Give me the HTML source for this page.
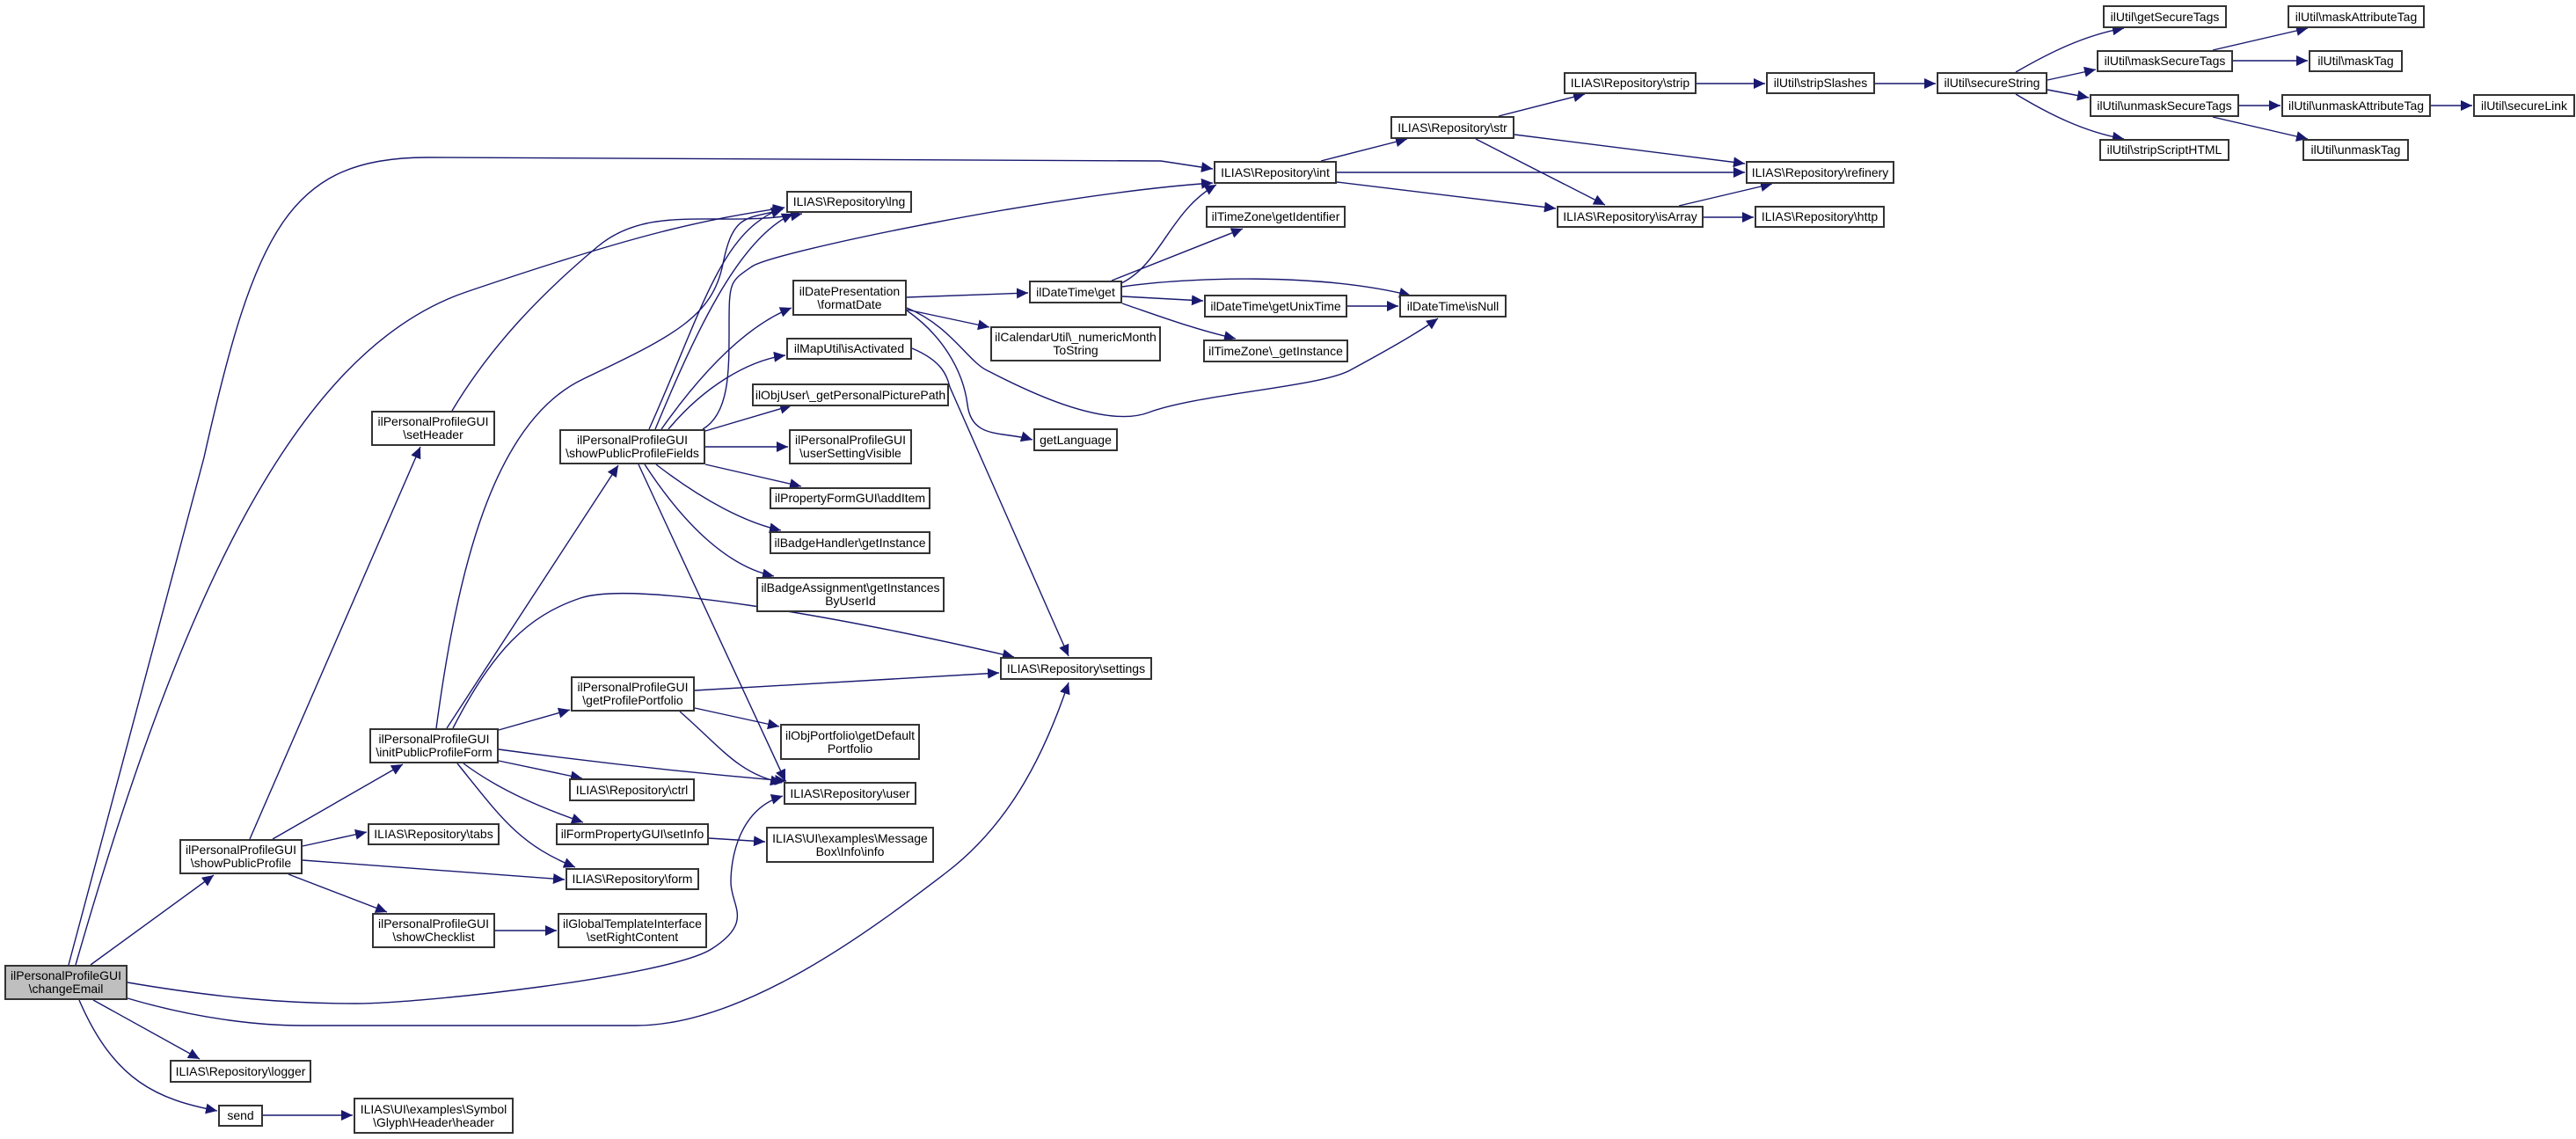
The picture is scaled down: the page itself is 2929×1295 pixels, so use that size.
<!DOCTYPE html>
<html><head><meta charset="utf-8">
<style>
html,body{margin:0;padding:0;background:#fff;}
#c{position:relative;width:2929px;height:1295px;overflow:hidden;background:#fff;}
svg{position:absolute;left:0;top:0;}
.n{position:absolute;box-sizing:border-box;border:2px solid #333;background:#fff;display:flex;align-items:center;justify-content:center;text-align:center;font-family:"Liberation Sans",sans-serif;font-size:14px;line-height:15px;color:#000;white-space:nowrap;}
.g{background:#bfbfbf;}
</style></head><body><div id="c">
<svg width="2929" height="1295" viewBox="0 0 2929 1295">
<defs><marker id="a" markerUnits="userSpaceOnUse" markerWidth="14" markerHeight="12" refX="13" refY="6" orient="auto"><path d="M0,0 L13,6 L0,12 z" fill="#191970"/></marker></defs>
<g fill="none" stroke="#191970" stroke-width="1.4" marker-end="url(#a)">
<path d="M78,1097 L232,520 C290,260 330,179 486,179 L1320,183 L1379,192"/>
<path d="M86,1097 C200,700 330,400 530,332 S800,250 892,236"/>
<path d="M103,1097 L243,995"/>
<path d="M284,954 L478,508"/>
<path d="M514,467 C560,390 620,330 680,280 S820,260 912,243"/>
<path d="M310,954 L458,869"/>
<path d="M344,962 L417,946"/>
<path d="M344,978 L642,1000"/>
<path d="M328,994 L440,1037"/>
<path d="M563,1058 L633,1058"/>
<path d="M567,830 L648,807"/>
<path d="M515,828 C560,740 600,700 660,680 S950,700 1153,747"/>
<path d="M567,852 C700,870 800,880 894,888"/>
<path d="M567,865 L662,885"/>
<path d="M527,868 C570,900 620,920 663,935"/>
<path d="M520,868 C570,930 590,960 654,986"/>
<path d="M508,828 L703,529"/>
<path d="M496,828 C520,650 560,480 663,431 S810,360 822,300 S850,250 890,238"/>
<path d="M738,488 C800,350 820,260 892,236"/>
<path d="M745,488 C790,380 840,270 902,243"/>
<path d="M799,488 C830,470 829,420 829,370 S830,320 855,303 S1200,220 1379,208"/>
<path d="M752,488 C800,420 850,370 900,350"/>
<path d="M760,488 C800,440 850,410 893,404"/>
<path d="M802,490 L900,461"/>
<path d="M802,508 L896,508"/>
<path d="M802,528 L911,553"/>
<path d="M746,528 C800,570 850,595 888,603"/>
<path d="M733,528 C780,600 830,645 880,655"/>
<path d="M726,528 L893,888"/>
<path d="M773,809 C820,850 840,880 889,890"/>
<path d="M790,785 L1136,765"/>
<path d="M790,805 L886,826"/>
<path d="M806,953 L870,957"/>
<path d="M1031,338 L1169,333"/>
<path d="M1031,352 L1125,372"/>
<path d="M1031,353 C1070,380 1095,420 1100,460 S1140,490 1174,500"/>
<path d="M1031,350 C1080,370 1100,410 1122,421 S1250,490 1306,469 S1500,440 1535,421 S1610,380 1635,362"/>
<path d="M1037,396 C1070,410 1076,425 1080,440 L1215,746"/>
<path d="M1275,322 C1320,300 1330,240 1383,210"/>
<path d="M1264,319 L1413,260"/>
<path d="M1276,326 C1350,315 1500,310 1604,336"/>
<path d="M1276,337 L1368,342"/>
<path d="M1276,345 C1320,360 1360,375 1405,385"/>
<path d="M1532,348 L1590,348"/>
<path d="M1502,183 L1600,158"/>
<path d="M1520,196 L1984,196"/>
<path d="M1520,207 L1769,237"/>
<path d="M1704,132 L1802,107"/>
<path d="M1722,153 L1984,186"/>
<path d="M1678,158 L1825,233"/>
<path d="M1909,234 L2015,209"/>
<path d="M1937,247 L1994,247"/>
<path d="M1929,95 L2007,95"/>
<path d="M2132,95 L2201,95"/>
<path d="M2292,82 C2330,60 2370,40 2415,32"/>
<path d="M2328,91 L2383,79"/>
<path d="M2328,102 L2375,111"/>
<path d="M2292,107 C2330,130 2370,150 2415,158"/>
<path d="M2516,57 L2624,32"/>
<path d="M2539,69 L2624,69"/>
<path d="M2546,120 L2593,120"/>
<path d="M2516,133 L2624,158"/>
<path d="M2764,120 L2811,120"/>
<path d="M145,1117 C250,1135 330,1141 405,1141 S760,1110 809,1079 S831,1030 831,1003 S840,920 890,905"/>
<path d="M145,1135 C230,1160 300,1166 344,1166 L723,1166 C850,1166 1000,1050 1076,992 S1190,850 1215,776"/>
<path d="M106,1137 L227,1204"/>
<path d="M90,1137 C130,1230 180,1250 247,1263"/>
<path d="M299,1268 L401,1268"/>
</g>
</svg>
<div class="n g" style="left:5px;top:1097px;width:140px;height:40px">ilPersonalProfileGUI<br>\changeEmail</div>
<div class="n" style="left:193px;top:1205px;width:161px;height:26px">ILIAS\Repository\logger</div>
<div class="n" style="left:248px;top:1256px;width:51px;height:25px">send</div>
<div class="n" style="left:402px;top:1248px;width:182px;height:41px">ILIAS\UI\examples\Symbol<br>\Glyph\Header\header</div>
<div class="n" style="left:204px;top:954px;width:140px;height:40px">ilPersonalProfileGUI<br>\showPublicProfile</div>
<div class="n" style="left:418px;top:936px;width:150px;height:25px">ILIAS\Repository\tabs</div>
<div class="n" style="left:423px;top:1038px;width:140px;height:40px">ilPersonalProfileGUI<br>\showChecklist</div>
<div class="n" style="left:634px;top:1038px;width:170px;height:40px">ilGlobalTemplateInterface<br>\setRightContent</div>
<div class="n" style="left:420px;top:828px;width:147px;height:40px">ilPersonalProfileGUI<br>\initPublicProfileForm</div>
<div class="n" style="left:647px;top:885px;width:143px;height:26px">ILIAS\Repository\ctrl</div>
<div class="n" style="left:632px;top:936px;width:174px;height:25px">ilFormPropertyGUI\setInfo</div>
<div class="n" style="left:643px;top:987px;width:152px;height:25px">ILIAS\Repository\form</div>
<div class="n" style="left:649px;top:769px;width:141px;height:40px">ilPersonalProfileGUI<br>\getProfilePortfolio</div>
<div class="n" style="left:887px;top:823px;width:159px;height:41px">ilObjPortfolio\getDefault<br>Portfolio</div>
<div class="n" style="left:891px;top:889px;width:151px;height:26px">ILIAS\Repository\user</div>
<div class="n" style="left:871px;top:940px;width:191px;height:41px">ILIAS\UI\examples\Message<br>Box\Info\info</div>
<div class="n" style="left:1137px;top:747px;width:173px;height:26px">ILIAS\Repository\settings</div>
<div class="n" style="left:422px;top:467px;width:141px;height:40px">ilPersonalProfileGUI<br>\setHeader</div>
<div class="n" style="left:636px;top:488px;width:166px;height:40px">ilPersonalProfileGUI<br>\showPublicProfileFields</div>
<div class="n" style="left:894px;top:217px;width:143px;height:25px">ILIAS\Repository\lng</div>
<div class="n" style="left:901px;top:318px;width:130px;height:41px">ilDatePresentation<br>\formatDate</div>
<div class="n" style="left:894px;top:384px;width:143px;height:25px">ilMapUtil\isActivated</div>
<div class="n" style="left:855px;top:436px;width:224px;height:26px">ilObjUser\_getPersonalPicturePath</div>
<div class="n" style="left:897px;top:488px;width:140px;height:40px">ilPersonalProfileGUI<br>\userSettingVisible</div>
<div class="n" style="left:875px;top:554px;width:183px;height:25px">ilPropertyFormGUI\addItem</div>
<div class="n" style="left:875px;top:604px;width:183px;height:26px">ilBadgeHandler\getInstance</div>
<div class="n" style="left:860px;top:656px;width:214px;height:40px">ilBadgeAssignment\getInstances<br>ByUserId</div>
<div class="n" style="left:1380px;top:183px;width:140px;height:26px">ILIAS\Repository\int</div>
<div class="n" style="left:1581px;top:132px;width:141px;height:26px">ILIAS\Repository\str</div>
<div class="n" style="left:1778px;top:82px;width:151px;height:25px">ILIAS\Repository\strip</div>
<div class="n" style="left:2008px;top:82px;width:124px;height:25px">ilUtil\stripSlashes</div>
<div class="n" style="left:2202px;top:82px;width:126px;height:25px">ilUtil\secureString</div>
<div class="n" style="left:1985px;top:183px;width:169px;height:26px">ILIAS\Repository\refinery</div>
<div class="n" style="left:1770px;top:234px;width:167px;height:25px">ILIAS\Repository\isArray</div>
<div class="n" style="left:1995px;top:234px;width:148px;height:25px">ILIAS\Repository\http</div>
<div class="n" style="left:1170px;top:319px;width:106px;height:26px">ilDateTime\get</div>
<div class="n" style="left:1371px;top:234px;width:159px;height:25px">ilTimeZone\getIdentifier</div>
<div class="n" style="left:1369px;top:335px;width:163px;height:26px">ilDateTime\getUnixTime</div>
<div class="n" style="left:1591px;top:335px;width:122px;height:26px">ilDateTime\isNull</div>
<div class="n" style="left:1126px;top:371px;width:194px;height:40px">ilCalendarUtil\_numericMonth<br>ToString</div>
<div class="n" style="left:1368px;top:386px;width:165px;height:26px">ilTimeZone\_getInstance</div>
<div class="n" style="left:1175px;top:487px;width:96px;height:26px">getLanguage</div>
<div class="n" style="left:2391px;top:6px;width:141px;height:26px">ilUtil\getSecureTags</div>
<div class="n" style="left:2601px;top:6px;width:156px;height:26px">ilUtil\maskAttributeTag</div>
<div class="n" style="left:2384px;top:57px;width:155px;height:25px">ilUtil\maskSecureTags</div>
<div class="n" style="left:2625px;top:57px;width:107px;height:25px">ilUtil\maskTag</div>
<div class="n" style="left:2376px;top:107px;width:170px;height:26px">ilUtil\unmaskSecureTags</div>
<div class="n" style="left:2594px;top:107px;width:170px;height:26px">ilUtil\unmaskAttributeTag</div>
<div class="n" style="left:2812px;top:107px;width:116px;height:26px">ilUtil\secureLink</div>
<div class="n" style="left:2387px;top:158px;width:148px;height:25px">ilUtil\stripScriptHTML</div>
<div class="n" style="left:2618px;top:158px;width:121px;height:25px">ilUtil\unmaskTag</div>
</div></body></html>
